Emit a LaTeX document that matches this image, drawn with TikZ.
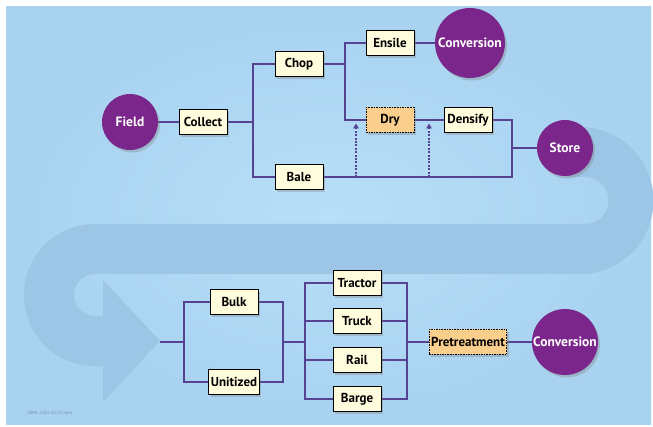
\documentclass[tikz,border=0pt]{standalone}
\usepackage{fontspec}
\setmainfont{PT Sans}
\usetikzlibrary{shadows,arrows.meta}
\definecolor{bgc}{RGB}{168,210,240}
\definecolor{bgl}{RGB}{184,223,248}
\definecolor{bandc}{RGB}{157,197,229}
\definecolor{linec}{RGB}{86,66,146}
\definecolor{purp}{RGB}{122,38,138}
\definecolor{cream}{RGB}{255,252,222}
\definecolor{orng}{RGB}{250,206,140}
\definecolor{footc}{RGB}{120,145,170}
\pgfdeclarelayer{back}
\pgfdeclarelayer{lines}
\pgfsetlayers{back,lines,main}
\begin{document}
\begin{tikzpicture}[x=1pt,y=-1pt,
  box/.style={draw=black, line width=0.9pt, fill=cream, minimum width=48pt,
    minimum height=25pt, inner sep=2pt, text=black,
    font=\bfseries\fontsize{13}{14}\selectfont,
    drop shadow={opacity=0.35,shadow xshift=2pt,shadow yshift=-2.5pt}},
  optbox/.style={box, fill=orng, dash pattern=on 1.6pt off 1pt},
  circ/.style={circle, fill=purp, text=white, inner sep=0pt,
    font=\bfseries\fontsize{13.5}{14}\selectfont,
    drop shadow={opacity=0.35,shadow xshift=2pt,shadow yshift=-2.5pt}},
  conn/.style={draw=linec, line width=2.7pt},
  dconn/.style={draw=linec, line width=2.2pt, dash pattern=on 2pt off 1.4pt,
    -{Triangle[length=5pt,width=5.5pt]}}
]
% background
\useasboundingbox (0,0) rectangle (653,427);
\begin{pgfonlayer}{back}
\fill[white] (0,0) rectangle (653,427);
\shade[inner color=bgl, outer color=bgc] (6,7) rectangle (651,424);
\fill[bandc] (566,127) -- (580,127) arc[start angle=-90,end angle=90,radius=73.5]
  -- (95,274) arc[start angle=-90,end angle=-270,radius=21]
  -- (103,316) -- (103,280) -- (160,341) -- (103,402) -- (103,366) -- (95,366)
  arc[start angle=90,end angle=270,radius=71]
  -- (585,224) arc[start angle=90,end angle=-90,radius=23.5]
  -- (566,177) -- cycle;
\node[anchor=west, text=footc, font=\fontsize{4.5}{5}\selectfont] (foot) at (24,413) {ORNL 2001-02135/gen};
\end{pgfonlayer}

% nodes
\node[circ, minimum size=56pt] (field) at (130,122) {Field};
\node[box] (collect) at (203,122) {Collect};
\node[box] (chop) at (299,64) {Chop};
\node[box] (bale) at (299,177) {Bale};
\node[box] (ensile) at (390,43) {Ensile};
\node[circ, minimum size=70pt] (conv1) at (470,43) {Conversion};
\node[optbox] (dry) at (390,120) {Dry};
\node[box] (densify) at (468,120) {Densify};
\node[circ, minimum size=56pt] (store) at (565,148) {Store};
\node[box] (bulk) at (234,302) {Bulk};
\node[box] (unit) at (234,382) {Unitized};
\node[box] (tractor) at (357,283) {Tractor};
\node[box] (truck) at (357,321) {Truck};
\node[box] (rail) at (357,360) {Rail};
\node[box] (barge) at (357,399) {Barge};
\node[optbox] (pre) at (468,342) {Pretreatment};
\node[circ, minimum size=66pt] (conv2) at (565,342) {Conversion};

% junctions
\coordinate (j1) at (253,122);
\coordinate (j2) at (345,64);
\coordinate (j3) at (512,148);
\coordinate (d1b) at (356,177);
\coordinate (d1t) at (356,123.5);
\coordinate (d2b) at (429,177);
\coordinate (d2t) at (429,123.5);
\coordinate (tip) at (160,342);
\coordinate (j4) at (184,342);
\coordinate (j5) at (283,342);
\coordinate (j6) at (305,342);
\coordinate (j7) at (407,342);
\coordinate (t6) at (305,321);
\coordinate (r6) at (305,360);
\coordinate (t7) at (407,321);
\coordinate (r7) at (407,360);

\begin{pgfonlayer}{lines}
\draw[conn] (field) -- (collect);
\draw[conn] (collect) -- (j1);
\draw[conn] (chop.west) -| (j1) |- (bale.west);
\draw[conn] (chop) -- (j2);
\draw[conn] (ensile.west) -| (j2) |- (dry.west);
\draw[conn] (ensile) -- (conv1);
\draw[conn] (dry) -- (densify);
\draw[conn] (densify.east) -| (j3) |- (bale.east);
\draw[conn] (j3) -- (store);
\draw[dconn] (d1b) -- (d1t);
\draw[dconn] (d2b) -- (d2t);
\draw[conn] (tip) -- (j4);
\draw[conn] (bulk.west) -| (j4) |- (unit.west);
\draw[conn] (bulk.east) -| (j5) |- (unit.east);
\draw[conn] (j5) -- (j6);
\draw[conn] (tractor.west) -| (j6) |- (barge.west);
\draw[conn] (t6) -- (truck);
\draw[conn] (r6) -- (rail);
\draw[conn] (tractor.east) -| (j7) |- (barge.east);
\draw[conn] (truck) -- (t7);
\draw[conn] (rail) -- (r7);
\draw[conn] (j7) -- (pre);
\draw[conn] (pre) -- (conv2);
\end{pgfonlayer}
\end{tikzpicture}
\end{document}
